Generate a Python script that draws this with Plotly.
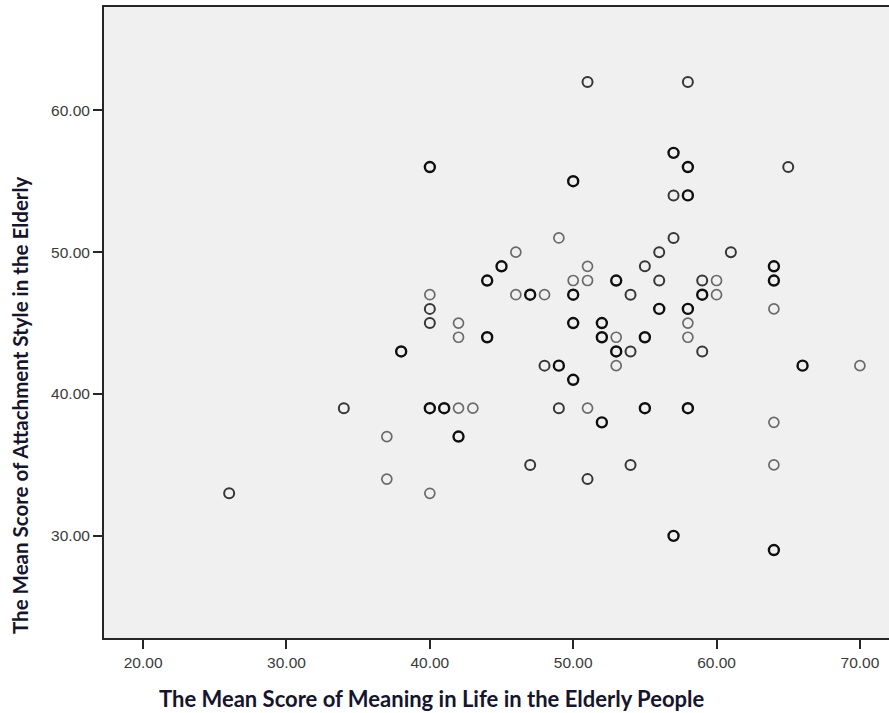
import plotly.graph_objects as go

# Mean Score of Meaning in Life (x), Mean Score of Attachment Style (y),
# n = estimated number of overlapping cases at that point (darker = more)
meaning_life = [26, 34, 37, 37, 38, 40, 40, 40, 40, 40, 41, 40, 42, 42, 42, 43, 42,
                44, 44, 45, 46, 46, 47, 48, 47, 48, 49, 49, 49, 50, 50, 50, 50, 50,
                51, 51, 51, 51, 51, 52, 52, 52, 53, 53, 53, 53, 54, 54, 54, 55, 55,
                55, 56, 56, 56, 57, 57, 57, 57, 58, 58, 58, 58, 58, 58, 58, 59, 59,
                59, 60, 60, 61, 64, 64, 64, 64, 64, 64, 65, 66, 70]
attachment = [33, 39, 37, 34, 43, 56, 47, 46, 45, 39, 39, 33, 45, 44, 39, 39, 37,
              48, 44, 49, 50, 47, 47, 47, 35, 42, 42, 51, 39, 55, 48, 47, 45, 41,
              62, 49, 48, 39, 34, 45, 44, 38, 48, 44, 43, 42, 43, 47, 35, 49, 44,
              39, 50, 48, 46, 57, 54, 51, 30, 62, 56, 54, 46, 45, 44, 39, 48, 47,
              43, 48, 47, 50, 49, 48, 46, 38, 35, 29, 56, 42, 42]
overlap = [2, 2, 1, 1, 3, 3, 1, 2, 2, 3, 3, 1, 1, 1, 1, 1, 3,
           3, 3, 3, 1, 1, 3, 1, 2, 2, 3, 1, 2, 3, 1, 3, 3, 3,
           2, 1, 1, 1, 2, 3, 3, 3, 3, 1, 3, 1, 2, 2, 2, 2, 3,
           3, 2, 2, 3, 3, 2, 2, 3, 2, 3, 3, 3, 1, 1, 3, 2, 3,
           2, 1, 1, 2, 3, 3, 1, 1, 1, 3, 2, 3, 1]

x_ticks = [20, 30, 40, 50, 60, 70]
y_ticks = [30, 40, 50, 60]
x_title = "The Mean Score of Meaning in Life in the Elderly People"
y_title = "The Mean Score of Attachment Style in the Elderly"

shade = {1: "#6a6a6a", 2: "#363636", 3: "#0e0e0e"}
width = {1: 1.7, 2: 2.0, 3: 2.4}

fig = go.Figure()
fig.add_trace(go.Scatter(
    x=meaning_life, y=attachment, mode="markers",
    marker=dict(symbol="circle-open", size=10,
                color=[shade[n] for n in overlap],
                line=dict(width=[width[n] for n in overlap],
                          color=[shade[n] for n in overlap])),
    showlegend=False, hoverinfo="x+y"))

axis_font = dict(family="Liberation Sans, Arial, sans-serif", size=15.5, color="#3a3a3a")
fig.update_xaxes(range=[17.27, 72.03], tickvals=x_ticks, tickformat=".2f",
                 showgrid=False, zeroline=False, showline=True, linecolor="#262626",
                 linewidth=2, mirror=True, ticks="outside", ticklen=9, tickwidth=2,
                 tickcolor="#262626", tickfont=axis_font)
fig.update_yaxes(range=[22.8, 67.28], tickvals=y_ticks, tickformat=".2f",
                 showgrid=False, zeroline=False, showline=True, linecolor="#262626",
                 linewidth=2, ticks="outside", ticklen=9, tickwidth=2,
                 tickcolor="#262626", tickfont=axis_font)

fig.update_layout(
    width=889, height=713,
    margin=dict(l=104, r=0, t=7, b=75),
    plot_bgcolor="#f0f0f0", paper_bgcolor="#ffffff",
    annotations=[
        dict(text="<b>" + x_title + "</b>", xref="paper", yref="paper",
             x=(431 - 104) / 785, y=-(698 - 638) / 631, showarrow=False,
             xanchor="center", yanchor="middle",
             font=dict(family="Lato, Open Sans, sans-serif", size=22, color="#15152e")),
        dict(text="<b>" + y_title + "</b>", xref="paper", yref="paper",
             x=-(104 - 20) / 785, y=(638 - 405) / 631, showarrow=False,
             textangle=-90, xanchor="center", yanchor="middle",
             font=dict(family="Lato, Open Sans, sans-serif", size=20.5, color="#15152e")),
    ])

fig.write_html("out.html", config={"displayModeBar": False},
               post_script="document.body.style.margin='0';document.body.style.padding='0';")
